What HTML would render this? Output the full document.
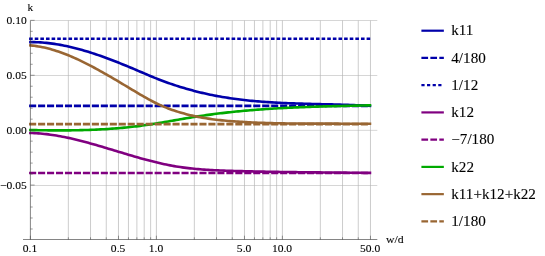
<!DOCTYPE html>
<html><head><meta charset="utf-8"><title>plot</title>
<style>
html,body{margin:0;padding:0;background:#fff;}
body{width:545px;height:256px;position:relative;overflow:hidden;font-family:"Liberation Serif",serif;}
svg text{font-family:"Liberation Serif",serif;fill:#000;stroke:#000;stroke-width:0.1px;}
</style></head><body>
<svg width="545" height="256" viewBox="0 0 545 256" style="position:absolute;left:0;top:0;will-change:transform">
<path d="M68.33,20.5V239.5M90.52,20.5V239.5M106.26,20.5V239.5M118.47,20.5V239.5M128.45,20.5V239.5M136.88,20.5V239.5M144.19,20.5V239.5M150.63,20.5V239.5M156.40,20.5V239.5M194.33,20.5V239.5M216.52,20.5V239.5M232.26,20.5V239.5M244.47,20.5V239.5M254.45,20.5V239.5M262.88,20.5V239.5M270.19,20.5V239.5M276.63,20.5V239.5M282.40,20.5V239.5M320.33,20.5V239.5M342.52,20.5V239.5M358.26,20.5V239.5M370.47,20.5V239.5" stroke="#a2a2a2" stroke-width="0.55" fill="none"/>
<path d="M30.5,20.50H377.3M30.5,75.50H377.3M30.5,130.35H377.3M30.5,185.50H377.3" stroke="#b4b4b4" stroke-width="0.55" fill="none"/>
<path d="M30.40,42.14 L32.40,42.14 L34.39,42.17 L36.39,42.23 L38.39,42.31 L40.39,42.42 L42.38,42.56 L44.38,42.72 L46.38,42.91 L48.38,43.12 L50.37,43.36 L52.37,43.62 L54.37,43.90 L56.37,44.21 L58.36,44.54 L60.36,44.89 L62.36,45.26 L64.36,45.66 L66.35,46.07 L68.35,46.50 L70.35,46.96 L72.35,47.43 L74.34,47.92 L76.34,48.43 L78.34,48.96 L80.34,49.51 L82.33,50.07 L84.33,50.65 L86.33,51.24 L88.33,51.85 L90.32,52.48 L92.32,53.12 L94.32,53.77 L96.32,54.44 L98.31,55.12 L100.31,55.82 L102.31,56.52 L104.31,57.24 L106.30,57.97 L108.30,58.71 L110.30,59.46 L112.30,60.23 L114.29,61.00 L116.29,61.78 L118.29,62.57 L120.29,63.37 L122.28,64.17 L124.28,64.98 L126.28,65.80 L128.28,66.63 L130.27,67.46 L132.27,68.30 L134.27,69.15 L136.27,69.99 L138.26,70.85 L140.26,71.70 L142.26,72.56 L144.26,73.41 L146.25,74.26 L148.25,75.11 L150.25,75.95 L152.25,76.78 L154.24,77.60 L156.24,78.40 L158.24,79.19 L160.24,79.97 L162.23,80.73 L164.23,81.47 L166.23,82.20 L168.23,82.91 L170.22,83.61 L172.22,84.30 L174.22,84.97 L176.22,85.63 L178.21,86.27 L180.21,86.90 L182.21,87.51 L184.21,88.11 L186.20,88.69 L188.20,89.26 L190.20,89.82 L192.20,90.36 L194.19,90.89 L196.19,91.41 L198.19,91.91 L200.19,92.40 L202.18,92.88 L204.18,93.34 L206.18,93.79 L208.17,94.23 L210.17,94.65 L212.17,95.06 L214.17,95.46 L216.16,95.85 L218.16,96.22 L220.16,96.58 L222.16,96.93 L224.15,97.26 L226.15,97.59 L228.15,97.90 L230.15,98.20 L232.14,98.50 L234.14,98.78 L236.14,99.05 L238.14,99.31 L240.13,99.56 L242.13,99.80 L244.13,100.03 L246.13,100.25 L248.12,100.46 L250.12,100.67 L252.12,100.86 L254.12,101.05 L256.11,101.23 L258.11,101.40 L260.11,101.56 L262.11,101.72 L264.10,101.87 L266.10,102.01 L268.10,102.15 L270.10,102.28 L272.09,102.40 L274.09,102.52 L276.09,102.63 L278.09,102.74 L280.08,102.84 L282.08,102.93 L284.08,103.02 L286.08,103.11 L288.07,103.19 L290.07,103.27 L292.07,103.35 L294.07,103.42 L296.06,103.49 L298.06,103.55 L300.06,103.61 L302.06,103.67 L304.05,103.73 L306.05,103.79 L308.05,103.84 L310.05,103.89 L312.04,103.94 L314.04,103.99 L316.04,104.04 L318.04,104.09 L320.03,104.13 L322.03,104.18 L324.03,104.23 L326.03,104.28 L328.02,104.32 L330.02,104.37 L332.02,104.42 L334.02,104.47 L336.01,104.52 L338.01,104.58 L340.01,104.63 L342.01,104.69 L344.00,104.75 L346.00,104.82 L348.00,104.88 L350.00,104.95 L351.99,105.02 L353.99,105.10 L355.99,105.18 L357.99,105.27 L359.98,105.35 L361.98,105.45 L363.98,105.54 L365.98,105.65 L367.97,105.76 L369.97,105.87" stroke="#0000aa" stroke-width="2.6" fill="none" stroke-linecap="square" stroke-linejoin="round"/>
<path d="M30.4,105.85H369.97" stroke="#0000aa" stroke-width="2.6" fill="none" stroke-linecap="square" stroke-dasharray="4.48 4.485"/>
<path d="M30.4,38.75H369.97" stroke="#0000aa" stroke-width="2.6" fill="none" stroke-linecap="square" stroke-dasharray="1.0 4.625"/>
<path d="M30.40,133.01 L32.40,133.06 L34.39,133.15 L36.39,133.26 L38.39,133.39 L40.39,133.55 L42.38,133.73 L44.38,133.93 L46.38,134.16 L48.38,134.40 L50.37,134.67 L52.37,134.96 L54.37,135.26 L56.37,135.59 L58.36,135.93 L60.36,136.29 L62.36,136.67 L64.36,137.06 L66.35,137.47 L68.35,137.89 L70.35,138.33 L72.35,138.79 L74.34,139.25 L76.34,139.73 L78.34,140.22 L80.34,140.73 L82.33,141.24 L84.33,141.76 L86.33,142.30 L88.33,142.84 L90.32,143.39 L92.32,143.95 L94.32,144.52 L96.32,145.09 L98.31,145.67 L100.31,146.25 L102.31,146.84 L104.31,147.43 L106.30,148.03 L108.30,148.63 L110.30,149.23 L112.30,149.84 L114.29,150.44 L116.29,151.05 L118.29,151.65 L120.29,152.26 L122.28,152.86 L124.28,153.46 L126.28,154.06 L128.28,154.66 L130.27,155.25 L132.27,155.84 L134.27,156.42 L136.27,157.00 L138.26,157.57 L140.26,158.13 L142.26,158.69 L144.26,159.24 L146.25,159.78 L148.25,160.31 L150.25,160.83 L152.25,161.34 L154.24,161.84 L156.24,162.33 L158.24,162.81 L160.24,163.27 L162.23,163.72 L164.23,164.16 L166.23,164.58 L168.23,164.98 L170.22,165.37 L172.22,165.75 L174.22,166.10 L176.22,166.44 L178.21,166.76 L180.21,167.07 L182.21,167.35 L184.21,167.63 L186.20,167.88 L188.20,168.12 L190.20,168.35 L192.20,168.57 L194.19,168.77 L196.19,168.96 L198.19,169.13 L200.19,169.30 L202.18,169.45 L204.18,169.60 L206.18,169.73 L208.17,169.86 L210.17,169.98 L212.17,170.09 L214.17,170.19 L216.16,170.29 L218.16,170.38 L220.16,170.46 L222.16,170.54 L224.15,170.61 L226.15,170.68 L228.15,170.75 L230.15,170.81 L232.14,170.87 L234.14,170.94 L236.14,170.99 L238.14,171.05 L240.13,171.11 L242.13,171.16 L244.13,171.21 L246.13,171.26 L248.12,171.31 L250.12,171.36 L252.12,171.41 L254.12,171.45 L256.11,171.50 L258.11,171.54 L260.11,171.58 L262.11,171.62 L264.10,171.66 L266.10,171.70 L268.10,171.73 L270.10,171.77 L272.09,171.80 L274.09,171.84 L276.09,171.87 L278.09,171.90 L280.08,171.93 L282.08,171.96 L284.08,171.99 L286.08,172.02 L288.07,172.05 L290.07,172.08 L292.07,172.10 L294.07,172.13 L296.06,172.15 L298.06,172.18 L300.06,172.20 L302.06,172.22 L304.05,172.25 L306.05,172.27 L308.05,172.29 L310.05,172.31 L312.04,172.33 L314.04,172.35 L316.04,172.37 L318.04,172.39 L320.03,172.41 L322.03,172.43 L324.03,172.45 L326.03,172.47 L328.02,172.49 L330.02,172.51 L332.02,172.53 L334.02,172.54 L336.01,172.56 L338.01,172.58 L340.01,172.60 L342.01,172.62 L344.00,172.64 L346.00,172.66 L348.00,172.68 L350.00,172.70 L351.99,172.72 L353.99,172.74 L355.99,172.76 L357.99,172.78 L359.98,172.80 L361.98,172.82 L363.98,172.84 L365.98,172.87 L367.97,172.89 L369.97,172.91" stroke="#800080" stroke-width="2.6" fill="none" stroke-linecap="square" stroke-linejoin="round"/>
<path d="M30.4,172.95H369.97" stroke="#800080" stroke-width="2.6" fill="none" stroke-linecap="square" stroke-dasharray="4.48 4.485"/>
<path d="M30.40,130.05 L32.40,130.09 L34.39,130.13 L36.39,130.17 L38.39,130.20 L40.39,130.23 L42.38,130.26 L44.38,130.29 L46.38,130.31 L48.38,130.34 L50.37,130.35 L52.37,130.37 L54.37,130.38 L56.37,130.39 L58.36,130.39 L60.36,130.39 L62.36,130.39 L64.36,130.38 L66.35,130.37 L68.35,130.36 L70.35,130.34 L72.35,130.31 L74.34,130.28 L76.34,130.25 L78.34,130.21 L80.34,130.17 L82.33,130.12 L84.33,130.06 L86.33,130.00 L88.33,129.94 L90.32,129.87 L92.32,129.79 L94.32,129.71 L96.32,129.62 L98.31,129.52 L100.31,129.42 L102.31,129.31 L104.31,129.20 L106.30,129.08 L108.30,128.95 L110.30,128.81 L112.30,128.67 L114.29,128.52 L116.29,128.36 L118.29,128.20 L120.29,128.02 L122.28,127.84 L124.28,127.65 L126.28,127.46 L128.28,127.25 L130.27,127.04 L132.27,126.81 L134.27,126.58 L136.27,126.34 L138.26,126.09 L140.26,125.84 L142.26,125.57 L144.26,125.29 L146.25,125.01 L148.25,124.71 L150.25,124.41 L152.25,124.10 L154.24,123.78 L156.24,123.46 L158.24,123.13 L160.24,122.80 L162.23,122.46 L164.23,122.12 L166.23,121.77 L168.23,121.42 L170.22,121.07 L172.22,120.72 L174.22,120.37 L176.22,120.02 L178.21,119.67 L180.21,119.32 L182.21,118.97 L184.21,118.63 L186.20,118.29 L188.20,117.95 L190.20,117.61 L192.20,117.29 L194.19,116.96 L196.19,116.65 L198.19,116.34 L200.19,116.04 L202.18,115.74 L204.18,115.45 L206.18,115.16 L208.17,114.88 L210.17,114.61 L212.17,114.34 L214.17,114.08 L216.16,113.83 L218.16,113.58 L220.16,113.33 L222.16,113.09 L224.15,112.86 L226.15,112.63 L228.15,112.41 L230.15,112.19 L232.14,111.98 L234.14,111.77 L236.14,111.57 L238.14,111.37 L240.13,111.17 L242.13,110.99 L244.13,110.80 L246.13,110.62 L248.12,110.45 L250.12,110.28 L252.12,110.11 L254.12,109.95 L256.11,109.79 L258.11,109.64 L260.11,109.49 L262.11,109.34 L264.10,109.20 L266.10,109.07 L268.10,108.93 L270.10,108.80 L272.09,108.68 L274.09,108.55 L276.09,108.43 L278.09,108.32 L280.08,108.20 L282.08,108.09 L284.08,107.99 L286.08,107.88 L288.07,107.78 L290.07,107.69 L292.07,107.59 L294.07,107.50 L296.06,107.41 L298.06,107.33 L300.06,107.24 L302.06,107.16 L304.05,107.08 L306.05,107.00 L308.05,106.93 L310.05,106.86 L312.04,106.79 L314.04,106.72 L316.04,106.65 L318.04,106.59 L320.03,106.53 L322.03,106.47 L324.03,106.41 L326.03,106.35 L328.02,106.29 L330.02,106.24 L332.02,106.19 L334.02,106.14 L336.01,106.09 L338.01,106.04 L340.01,105.99 L342.01,105.94 L344.00,105.89 L346.00,105.85 L348.00,105.80 L350.00,105.76 L351.99,105.72 L353.99,105.67 L355.99,105.63 L357.99,105.59 L359.98,105.55 L361.98,105.51 L363.98,105.47 L365.98,105.42 L367.97,105.38 L369.97,105.34" stroke="#00aa00" stroke-width="2.6" fill="none" stroke-linecap="square" stroke-linejoin="round"/>
<path d="M30.40,45.40 L32.40,45.59 L34.39,45.83 L36.39,46.11 L38.39,46.43 L40.39,46.78 L42.38,47.17 L44.38,47.60 L46.38,48.07 L48.38,48.57 L50.37,49.10 L52.37,49.67 L54.37,50.27 L56.37,50.90 L58.36,51.56 L60.36,52.26 L62.36,52.98 L64.36,53.72 L66.35,54.50 L68.35,55.30 L70.35,56.13 L72.35,56.98 L74.34,57.86 L76.34,58.76 L78.34,59.68 L80.34,60.62 L82.33,61.58 L84.33,62.56 L86.33,63.57 L88.33,64.58 L90.32,65.62 L92.32,66.67 L94.32,67.74 L96.32,68.82 L98.31,69.91 L100.31,71.02 L102.31,72.14 L104.31,73.27 L106.30,74.41 L108.30,75.56 L110.30,76.72 L112.30,77.88 L114.29,79.05 L116.29,80.23 L118.29,81.42 L120.29,82.60 L122.28,83.79 L124.28,84.99 L126.28,86.18 L128.28,87.38 L130.27,88.57 L132.27,89.76 L134.27,90.96 L136.27,92.15 L138.26,93.33 L140.26,94.51 L142.26,95.68 L144.26,96.83 L146.25,97.97 L148.25,99.09 L150.25,100.18 L152.25,101.24 L154.24,102.27 L156.24,103.27 L158.24,104.22 L160.24,105.14 L162.23,106.02 L164.23,106.86 L166.23,107.67 L168.23,108.45 L170.22,109.19 L172.22,109.91 L174.22,110.59 L176.22,111.25 L178.21,111.88 L180.21,112.49 L182.21,113.07 L184.21,113.62 L186.20,114.16 L188.20,114.67 L190.20,115.15 L192.20,115.62 L194.19,116.06 L196.19,116.48 L198.19,116.88 L200.19,117.27 L202.18,117.63 L204.18,117.98 L206.18,118.30 L208.17,118.61 L210.17,118.91 L212.17,119.19 L214.17,119.45 L216.16,119.70 L218.16,119.94 L220.16,120.16 L222.16,120.37 L224.15,120.57 L226.15,120.75 L228.15,120.93 L230.15,121.09 L232.14,121.25 L234.14,121.40 L236.14,121.54 L238.14,121.67 L240.13,121.79 L242.13,121.91 L244.13,122.03 L246.13,122.13 L248.12,122.24 L250.12,122.34 L252.12,122.43 L254.12,122.52 L256.11,122.60 L258.11,122.68 L260.11,122.76 L262.11,122.83 L264.10,122.90 L266.10,122.97 L268.10,123.03 L270.10,123.08 L272.09,123.14 L274.09,123.19 L276.09,123.24 L278.09,123.28 L280.08,123.32 L282.08,123.36 L284.08,123.39 L286.08,123.43 L288.07,123.46 L290.07,123.48 L292.07,123.51 L294.07,123.53 L296.06,123.55 L298.06,123.57 L300.06,123.59 L302.06,123.60 L304.05,123.61 L306.05,123.62 L308.05,123.63 L310.05,123.64 L312.04,123.65 L314.04,123.66 L316.04,123.66 L318.04,123.66 L320.03,123.67 L322.03,123.67 L324.03,123.67 L326.03,123.67 L328.02,123.67 L330.02,123.67 L332.02,123.67 L334.02,123.67 L336.01,123.67 L338.01,123.67 L340.01,123.68 L342.01,123.68 L344.00,123.68 L346.00,123.68 L348.00,123.68 L350.00,123.69 L351.99,123.69 L353.99,123.70 L355.99,123.70 L357.99,123.71 L359.98,123.72 L361.98,123.73 L363.98,123.74 L365.98,123.76 L367.97,123.77 L369.97,123.79" stroke="#996633" stroke-width="2.6" fill="none" stroke-linecap="square" stroke-linejoin="round"/>
<path d="M30.4,124.15H369.97" stroke="#996633" stroke-width="2.6" fill="none" stroke-linecap="square" stroke-dasharray="4.48 4.485"/>
<path d="M23,239.5H377.3M30.4,20.5V239.5" stroke="#333" stroke-width="0.6" fill="none"/>
<path d="M30.4,228.97h2.3M30.4,217.99h2.3M30.4,207.01h2.3M30.4,196.03h2.3M30.4,185.05h4.2M30.4,174.07h2.3M30.4,163.09h2.3M30.4,152.11h2.3M30.4,141.13h2.3M30.4,130.15h4.2M30.4,119.17h2.3M30.4,108.19h2.3M30.4,97.21h2.3M30.4,86.23h2.3M30.4,75.25h4.2M30.4,64.27h2.3M30.4,53.29h2.3M30.4,42.31h2.3M30.4,31.33h2.3M30.4,20.35h4.2M30.40,239.5v-3.8M68.33,239.5v-2.2M90.52,239.5v-2.2M106.26,239.5v-2.2M118.47,239.5v-3.8M128.45,239.5v-2.2M136.88,239.5v-2.2M144.19,239.5v-2.2M150.63,239.5v-2.2M156.40,239.5v-3.8M194.33,239.5v-2.2M216.52,239.5v-2.2M232.26,239.5v-2.2M244.47,239.5v-3.8M254.45,239.5v-2.2M262.88,239.5v-2.2M270.19,239.5v-2.2M276.63,239.5v-2.2M282.40,239.5v-3.8M320.33,239.5v-2.2M342.52,239.5v-2.2M358.26,239.5v-2.2M370.47,239.5v-3.8" stroke="#4a4a4a" stroke-width="0.55" fill="none"/>
<path d="M422.5,30.7H442.75" stroke="#0000aa" stroke-width="2.2" stroke-linecap="square"/>
<text transform="translate(451.3,35.40) scale(1.045,1)" font-size="14.5">k11</text>
<path d="M422.5,57.94H442.75" stroke="#0000aa" stroke-width="2.2" stroke-linecap="square" stroke-dasharray="4.48 4.485"/>
<text transform="translate(451.3,62.64) scale(1.045,1)" font-size="14.5">4/180</text>
<path d="M422.5,85.17999999999999H442.75" stroke="#0000aa" stroke-width="2.2" stroke-linecap="square" stroke-dasharray="1.0 4.625"/>
<text transform="translate(451.3,89.88) scale(1.045,1)" font-size="14.5">1/12</text>
<path d="M422.5,112.42H442.75" stroke="#800080" stroke-width="2.2" stroke-linecap="square"/>
<text transform="translate(451.3,117.12) scale(1.045,1)" font-size="14.5">k12</text>
<path d="M422.5,139.66H442.75" stroke="#800080" stroke-width="2.2" stroke-linecap="square" stroke-dasharray="4.48 4.485"/>
<text transform="translate(451.3,144.36) scale(1.045,1)" font-size="14.5">−7/180</text>
<path d="M422.5,166.89999999999998H442.75" stroke="#00aa00" stroke-width="2.2" stroke-linecap="square"/>
<text transform="translate(451.3,171.60) scale(1.045,1)" font-size="14.5">k22</text>
<path d="M422.5,194.14H442.75" stroke="#996633" stroke-width="2.2" stroke-linecap="square"/>
<text transform="translate(451.3,198.84) scale(1.045,1)" font-size="14.5">k11+k12+k22</text>
<path d="M422.5,221.37999999999997H442.75" stroke="#996633" stroke-width="2.2" stroke-linecap="square" stroke-dasharray="4.48 4.485"/>
<text transform="translate(451.3,226.08) scale(1.045,1)" font-size="14.5">1/180</text>
<text transform="translate(26.8,24.15) scale(1.07,1)" font-size="10.8" text-anchor="end">0.10</text>
<text transform="translate(26.8,79.05) scale(1.07,1)" font-size="10.8" text-anchor="end">0.05</text>
<text transform="translate(26.8,133.95) scale(1.07,1)" font-size="10.8" text-anchor="end">0.00</text>
<text transform="translate(26.8,188.85) scale(1.07,1)" font-size="10.8" text-anchor="end">−0.05</text>
<text transform="translate(30.00,251.6) scale(1.07,1)" font-size="10.8" text-anchor="middle">0.1</text>
<text transform="translate(118.07,251.6) scale(1.07,1)" font-size="10.8" text-anchor="middle">0.5</text>
<text transform="translate(156.00,251.6) scale(1.07,1)" font-size="10.8" text-anchor="middle">1.0</text>
<text transform="translate(244.07,251.6) scale(1.07,1)" font-size="10.8" text-anchor="middle">5.0</text>
<text transform="translate(282.00,251.6) scale(1.07,1)" font-size="10.8" text-anchor="middle">10.0</text>
<text transform="translate(370.07,251.6) scale(1.07,1)" font-size="10.8" text-anchor="middle">50.0</text>
<text transform="translate(27.6,11) scale(1.05,1.02)" font-size="10.8">k</text>
<text transform="translate(386.1,242.8) scale(1.09,1.03)" font-size="10.8">w/d</text>
</svg>
</body></html>
